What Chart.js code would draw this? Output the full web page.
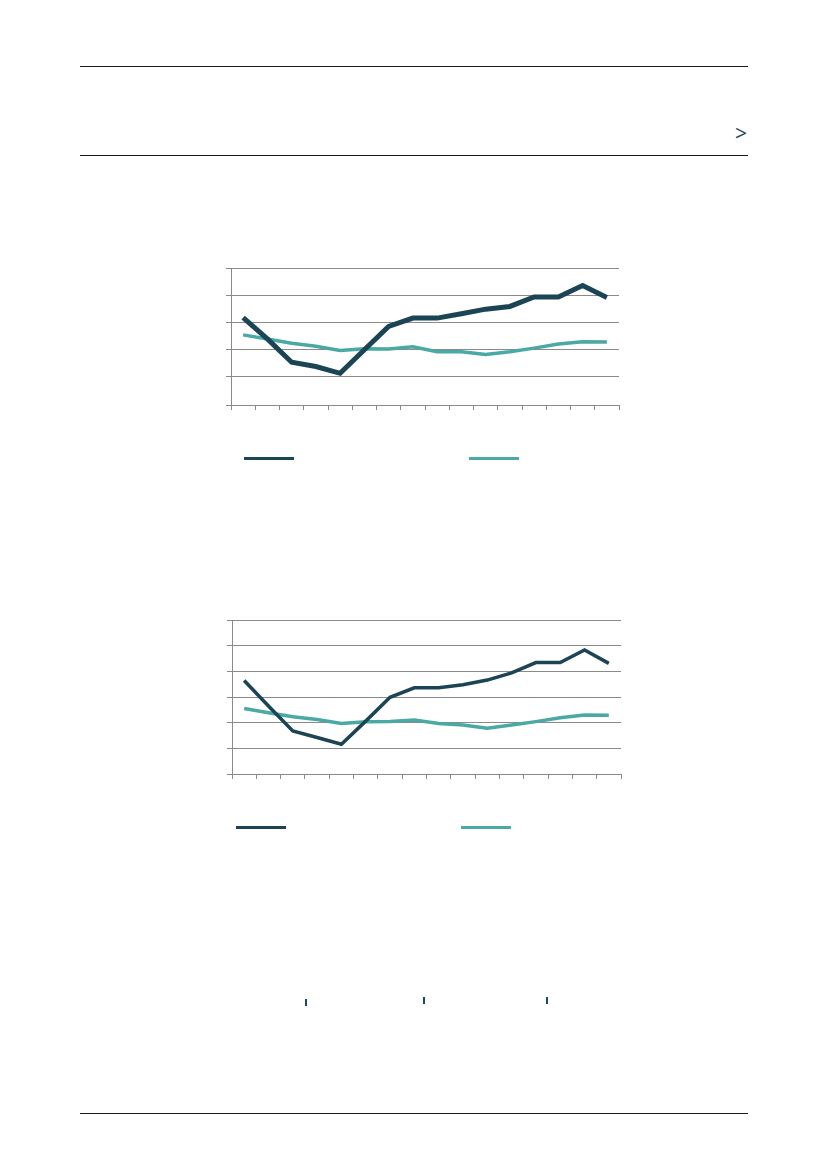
<!DOCTYPE html>
<html>
<head>
<meta charset="utf-8">
<script src="https://cdn.jsdelivr.net/npm/chart.js@4.4.1/dist/chart.umd.min.js"></script>
<style>
  body { margin: 0; background: #fff; font-family: "Open Sans", "DejaVu Sans", sans-serif; }
  .page { position: relative; width: 827px; height: 1169px; overflow: hidden; }
  .rule { position: absolute; left: 80px; width: 668px; height: 1px; background: #1a1a1a; }
  .arrow { position: absolute; left: 735px; top: 123px; font-size: 21px; line-height: 1; color: #1d4a5a; }
  .tick { position: absolute; width: 1.5px; height: 7px; background: #1d4a5a; }
  .leg { position: absolute; height: 3px; width: 50px; }
  canvas { position: absolute; }
</style>
</head>
<body>
<div class="page">
  <div class="rule" style="top:66px"></div>
  <div class="arrow">&gt;</div>
  <div class="rule" style="top:155px"></div>

  <canvas id="chart1" width="450" height="170" style="left:190px; top:250px; width:450px; height:170px"></canvas>
  <div class="leg" style="left:244px; top:457px; background:#1b4554"></div>
  <div class="leg" style="left:469px; top:457px; background:#4aa9a4"></div>

  <canvas id="chart2" width="450" height="185" style="left:190px; top:602px; width:450px; height:185px"></canvas>
  <div class="leg" style="left:236px; top:826px; background:#1b4554"></div>
  <div class="leg" style="left:461px; top:826px; background:#4aa9a4"></div>

  <div class="tick" style="left:305px; top:999px"></div>
  <div class="tick" style="left:423px; top:997px"></div>
  <div class="tick" style="left:546px; top:997px"></div>

  <div class="rule" style="top:1113px"></div>
</div>
<script>
// categories (labels are not shown in the picture)
const periods = ['1','2','3','4','5','6','7','8','9','10','11','12','13','14','15','16'];

// chart 1
const dark1 = [3.17, 2.38, 1.52, 1.36, 1.11, 1.98, 2.84, 3.15, 3.15, 3.31, 3.48, 3.58, 3.93, 3.93, 4.35, 3.91];
const teal1 = [2.53, 2.38, 2.22, 2.11, 1.95, 2.02, 2.01, 2.09, 1.91, 1.91, 1.81, 1.91, 2.04, 2.19, 2.28, 2.27];
const yTicks1 = [-0.06, 1, 2, 3, 4, 5];

// chart 2
const dark2 = [3.64, 2.65, 1.68, 1.42, 1.16, 2.06, 2.99, 3.36, 3.36, 3.48, 3.66, 3.94, 4.34, 4.34, 4.83, 4.31];
const teal2 = [2.55, 2.39, 2.23, 2.12, 1.97, 2.04, 2.05, 2.10, 1.97, 1.91, 1.78, 1.91, 2.04, 2.19, 2.30, 2.29];
const yTicks2 = [0, 1, 2, 3, 4, 5, 6];

const DARK = '#1b4554';
const TEAL = '#4aa9a4';
const GRID = '#8a8a8a';

function lineChart(id, darkData, tealData, yTicks, darkWidth, padding) {
    const ctx = document.getElementById(id);
    return new Chart(ctx, {
        type: 'line',
        data: {
            labels: periods,
            datasets: [{
                data: darkData,
                borderColor: DARK,
                borderWidth: darkWidth,
                pointRadius: 0,
                tension: 0
            }, {
                data: tealData,
                borderColor: TEAL,
                borderWidth: 3.5,
                pointRadius: 0,
                tension: 0
            }]
        },
        options: {
            responsive: false,
            animation: false,
            layout: { padding: padding, autoPadding: false },
            plugins: { legend: { display: false }, tooltip: { enabled: false } },
            scales: {
                x: {
                    offset: true,
                    grid: { drawOnChartArea: false, offset: true, color: GRID, tickLength: 5 },
                    border: { color: GRID },
                    ticks: { display: false }
                },
                y: {
                    min: yTicks[0],
                    max: yTicks[yTicks.length - 1],
                    afterBuildTicks: (scale) => {
                        scale.ticks = yTicks.map(v => ({ value: v }));
                    },
                    grid: { color: GRID, tickLength: 5 },
                    border: { color: GRID },
                    ticks: { display: false }
                }
            }
        }
    });
}

lineChart('chart1', dark1, teal1, yTicks1, 5, { left: 36, right: 21, top: 18, bottom: 10 });
lineChart('chart2', dark2, teal2, yTicks2, 3.5, { left: 37, right: 19, top: 18, bottom: 8 });
</script>
</body>
</html>
